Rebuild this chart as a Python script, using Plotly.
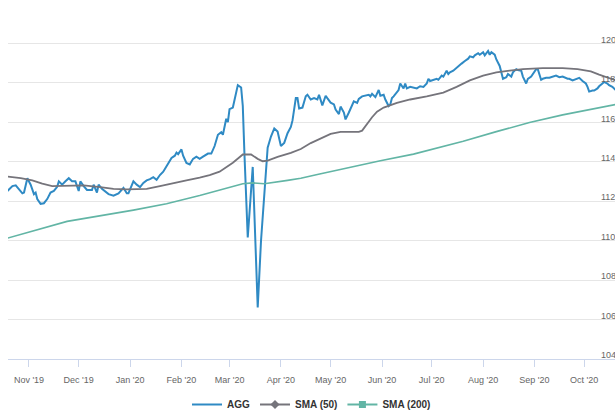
import plotly.graph_objects as go

# ---------------- data ----------------
agg_dates = [
    "2019-10-19","2019-10-22","2019-10-24","2019-10-26","2019-10-28","2019-10-29","2019-10-31",
    "2019-11-02","2019-11-04","2019-11-05","2019-11-06","2019-11-08","2019-11-10","2019-11-12",
    "2019-11-14","2019-11-16","2019-11-18","2019-11-19","2019-11-21","2019-11-23","2019-11-25",
    "2019-11-27","2019-11-29","2019-12-01","2019-12-02","2019-12-04","2019-12-06","2019-12-09",
    "2019-12-10","2019-12-12","2019-12-13","2019-12-15","2019-12-17","2019-12-19","2019-12-22",
    "2019-12-25","2019-12-28","2019-12-30","2019-12-31","2020-01-03","2020-01-05","2020-01-07",
    "2020-01-09","2020-01-11","2020-01-13","2020-01-15","2020-01-17","2020-01-19","2020-01-21",
    "2020-01-23","2020-01-25","2020-01-26","2020-01-28","2020-01-29","2020-01-30","2020-02-01",
    "2020-02-02","2020-02-04","2020-02-06","2020-02-08","2020-02-10","2020-02-12","2020-02-14",
    "2020-02-17","2020-02-19","2020-02-21","2020-02-23","2020-02-25","2020-02-26","2020-02-28",
    "2020-02-29","2020-03-01","2020-03-03","2020-03-04","2020-03-05","2020-03-06","2020-03-08",
    "2020-03-09","2020-03-10","2020-03-11","2020-03-12","2020-03-15","2020-03-18","2020-03-20",
    "2020-03-22","2020-03-24","2020-03-26","2020-03-28","2020-03-30","2020-04-01","2020-04-03",
    "2020-04-05","2020-04-07","2020-04-08","2020-04-10","2020-04-11","2020-04-12","2020-04-14",
    "2020-04-16","2020-04-17","2020-04-19","2020-04-21","2020-04-23","2020-04-24","2020-04-26",
    "2020-04-28","2020-04-29","2020-05-01","2020-05-03","2020-05-04","2020-05-06","2020-05-07",
    "2020-05-09","2020-05-10","2020-05-12","2020-05-14","2020-05-15","2020-05-17","2020-05-18",
    "2020-05-20","2020-05-22","2020-05-24","2020-05-25","2020-05-26","2020-05-28","2020-05-30",
    "2020-05-31","2020-06-02","2020-06-03","2020-06-05","2020-06-06","2020-06-07","2020-06-08",
    "2020-06-10","2020-06-11","2020-06-12","2020-06-14","2020-06-15","2020-06-16","2020-06-18",
    "2020-06-20","2020-06-22","2020-06-24","2020-06-26","2020-06-28","2020-06-29","2020-06-30",
    "2020-07-02","2020-07-04","2020-07-05","2020-07-07","2020-07-08","2020-07-10","2020-07-11",
    "2020-07-12","2020-07-14","2020-07-15","2020-07-17","2020-07-19","2020-07-21","2020-07-23",
    "2020-07-24","2020-07-26","2020-07-27","2020-07-29","2020-07-30","2020-08-01","2020-08-02",
    "2020-08-04","2020-08-05","2020-08-06","2020-08-08","2020-08-09","2020-08-11","2020-08-12",
    "2020-08-13","2020-08-15","2020-08-16","2020-08-18","2020-08-19","2020-08-21","2020-08-22",
    "2020-08-24","2020-08-25","2020-08-27","2020-08-28","2020-08-30","2020-08-31","2020-09-02",
    "2020-09-03","2020-09-05","2020-09-06","2020-09-08","2020-09-10","2020-09-12","2020-09-14",
    "2020-09-16","2020-09-18","2020-09-21","2020-09-22","2020-09-24","2020-09-26","2020-09-28",
    "2020-09-30","2020-10-02","2020-10-03","2020-10-04","2020-10-06","2020-10-07","2020-10-09",
    "2020-10-10","2020-10-12","2020-10-13","2020-10-15","2020-10-16","2020-10-18","2020-10-20",
]
agg_values = [
    112.52,112.77,112.81,112.63,112.40,112.44,113.17,
    112.84,112.36,112.44,112.11,111.87,111.90,112.11,
    112.44,112.52,112.73,113.01,112.84,113.01,113.17,
    113.01,113.01,112.52,113.01,112.77,112.57,112.57,
    112.84,112.44,112.84,112.63,112.47,112.36,112.28,
    112.40,112.68,112.40,112.40,113.01,112.84,112.72,
    112.93,113.06,113.12,113.22,113.09,113.33,113.50,
    113.77,114.03,114.20,114.31,114.47,114.39,114.63,
    114.31,113.94,113.87,114.15,114.26,114.15,114.26,
    114.42,114.42,114.80,115.37,115.50,115.37,116.18,
    116.01,116.67,116.75,117.16,117.48,117.89,117.77,
    116.83,114.39,112.28,110.16,113.74,106.62,110.00,
    112.60,114.72,115.28,115.69,115.53,114.80,114.96,
    115.45,115.77,116.10,117.23,117.23,116.70,116.75,
    117.32,117.40,117.16,117.23,117.16,117.40,116.86,
    117.35,117.23,117.00,116.91,116.65,116.42,116.80,
    116.50,116.15,116.50,116.91,117.07,116.99,117.19,
    117.32,117.35,117.40,117.32,117.45,117.28,117.64,
    117.35,117.40,117.16,116.83,116.91,117.23,117.32,
    117.56,117.64,117.97,117.72,117.97,117.72,117.80,
    117.77,117.72,117.83,117.80,117.97,118.21,118.10,
    118.16,118.21,118.16,118.37,118.32,118.62,118.45,
    118.54,118.62,118.70,118.86,118.98,119.11,119.23,
    119.35,119.30,119.40,119.51,119.43,119.56,119.40,
    119.62,119.43,119.56,119.43,119.19,118.86,118.45,
    118.21,118.29,118.45,118.32,118.54,118.70,118.65,
    118.62,118.32,117.97,118.21,118.32,118.45,118.70,
    118.70,118.16,118.21,118.26,118.26,118.32,118.37,
    118.29,118.32,118.21,118.21,118.13,118.21,118.26,
    118.10,117.97,117.80,117.56,117.61,117.61,117.72,
    117.83,117.97,118.05,117.97,117.89,117.80,117.64,
]

sma50_dates = [
    "2019-10-19","2019-10-27","2019-11-03","2019-11-09","2019-11-15","2019-11-24","2019-12-04",
    "2019-12-14","2019-12-22","2019-12-30","2020-01-11","2020-01-19","2020-01-27","2020-02-04",
    "2020-02-12","2020-02-18","2020-02-24","2020-03-03","2020-03-09","2020-03-14","2020-03-18",
    "2020-03-21","2020-03-24","2020-03-30","2020-04-07","2020-04-13","2020-04-19","2020-04-25",
    "2020-05-01","2020-05-07","2020-05-13","2020-05-18","2020-05-20","2020-05-23","2020-05-26",
    "2020-05-29","2020-06-02","2020-06-10","2020-06-18","2020-06-28","2020-07-08","2020-07-16",
    "2020-07-24","2020-08-01","2020-08-09","2020-08-17","2020-08-25","2020-09-06","2020-09-18",
    "2020-09-27","2020-10-05","2020-10-10","2020-10-20",
]
sma50_values = [
    113.25,113.17,113.06,112.89,112.77,112.80,112.80,
    112.72,112.63,112.60,112.63,112.77,112.93,113.06,
    113.20,113.33,113.50,113.95,114.37,114.37,114.15,
    114.03,114.06,114.25,114.45,114.65,114.95,115.20,
    115.42,115.52,115.52,115.52,115.58,115.94,116.26,
    116.54,116.75,116.99,117.16,117.32,117.51,117.80,
    118.13,118.37,118.54,118.62,118.70,118.75,118.75,
    118.70,118.59,118.42,118.13,
]

sma200_dates = [
    "2019-10-19","2019-11-04","2019-11-24","2020-01-03","2020-01-23","2020-02-12","2020-02-22",
    "2020-03-09","2020-03-15","2020-03-22","2020-04-05","2020-04-13","2020-04-23","2020-05-07",
    "2020-05-31","2020-06-20","2020-07-20","2020-08-09","2020-08-29","2020-09-18","2020-10-20",
]
sma200_values = [
    110.13,110.52,110.98,111.55,111.87,112.29,112.52,
    112.89,112.93,112.89,113.06,113.17,113.36,113.62,
    114.05,114.39,115.04,115.53,115.99,116.38,116.91,
]

series_names = ["AGG", "SMA (50)", "SMA (200)"]
series_colors = ["#2f8ac4", "#75747b", "#62b5a5"]
legend_symbols = [None, "diamond", "square"]

x_range = ["2019-10-19 08:00", "2020-10-19 14:00"]
y_range = [104, 121.8]

FONT = "Liberation Sans, Arial, sans-serif"

# ---------------- figure ----------------
fig = go.Figure()
all_x = [agg_dates, sma50_dates, sma200_dates]
all_y = [agg_values, sma50_values, sma200_values]
widths = [2, 1.8, 1.6]
for name, xs, ys, col, w in zip(series_names, all_x, all_y, series_colors, widths):
    fig.add_trace(go.Scatter(x=xs, y=ys, mode="lines", name=name, showlegend=False,
                             line=dict(color=col, width=w), hoverinfo="skip"))

# legend entries
for name, col, sym in zip(series_names, series_colors, legend_symbols):
    if sym is None:
        fig.add_trace(go.Scatter(x=[None], y=[None], mode="lines", name=name,
                                 line=dict(color=col, width=2)))
    else:
        fig.add_trace(go.Scatter(x=[None], y=[None], mode="lines+markers", name=name,
                                 line=dict(color=col, width=2),
                                 marker=dict(symbol=sym, size=7, color=col)))

fig.update_layout(
    template="none",
    width=615, height=419,
    margin=dict(l=8, r=0, t=8, b=46),
    paper_bgcolor="white", plot_bgcolor="white",
    font=dict(family=FONT, size=9, color="#666666"),
    showlegend=True,
    legend=dict(orientation="h", x=0.5, xanchor="center", y=-0.13, yanchor="middle",
                font=dict(family=FONT, size=10, color="#333333", weight="bold"),
                itemwidth=30, tracegroupgap=0),
    xaxis=dict(type="date", range=x_range, tick0="2019-11-01", dtick="M1",
               tickformat="%b '%y", showgrid=False, zeroline=False,
               showline=True, linecolor="#ccd6eb", linewidth=1,
               ticks="outside", ticklen=7, tickcolor="#ccd6eb", tickwidth=1,
               ticklabelstandoff=5,
               tickfont=dict(family=FONT, size=9, color="#666666"),
               automargin=False),
    yaxis=dict(range=y_range, tick0=104, dtick=2, side="right",
               showgrid=True, gridcolor="#e6e6e6", gridwidth=1, zeroline=False,
               showline=False, ticks="", ticklabelposition="outside",
               ticklabelstandoff=-15, ticklabelshift=-4,
               tickfont=dict(family=FONT, size=9, color="#666666"),
               automargin=False),
    shapes=[dict(type="rect", xref="paper", yref="paper", x0=0.9753, x1=1.0, y0=0.003, y1=1,
                 fillcolor="white", line=dict(width=0), layer="between")],
)

fig.write_html("out.html", config={"displayModeBar": False},
               post_script="document.body.style.margin='0';")
